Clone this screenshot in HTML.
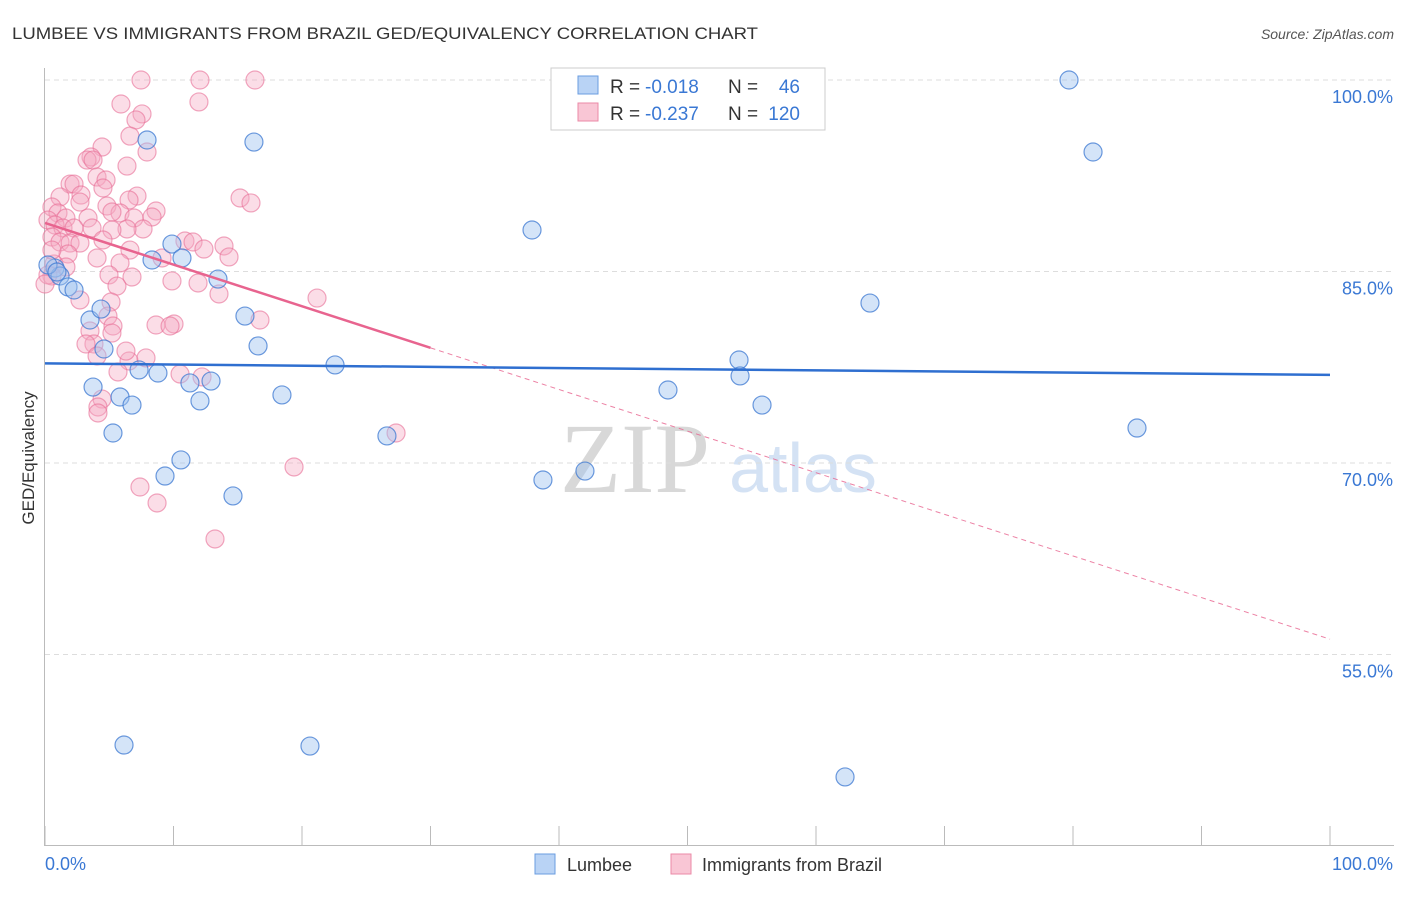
<!DOCTYPE html>
<html><head><meta charset="utf-8"><style>
body{margin:0;background:#fff;font-family:"Liberation Sans",sans-serif}
</style></head><body>
<svg id="c" width="1406" height="892" xmlns="http://www.w3.org/2000/svg">
<text x="12" y="39" font-size="17" fill="#333" textLength="746" lengthAdjust="spacingAndGlyphs">LUMBEE VS IMMIGRANTS FROM BRAZIL GED/EQUIVALENCY CORRELATION CHART</text>
<text x="1394" y="39" font-size="14" fill="#555" font-style="italic" text-anchor="end">Source: ZipAtlas.com</text>
<text x="635" y="492" font-size="100" fill="#d8d8d8" font-family="Liberation Serif" text-anchor="middle">ZIP</text>
<text x="803" y="492" font-size="70" fill="#d4e2f4" text-anchor="middle">atlas</text>
<text transform="translate(34,458) rotate(-90)" font-size="17" fill="#333" text-anchor="middle">GED/Equivalency</text>
<g id="grid"></g><g id="marks"></g>
<g>
<rect x="551" y="68" width="274" height="62" fill="#fff" stroke="#ccc"/>
<rect x="578" y="76" width="20" height="18" fill="#b9d3f5" stroke="#6a9de0"/>
<rect x="578" y="103" width="20" height="18" fill="#f9c6d5" stroke="#eb8aa7"/>
<text x="610" y="93" font-size="19" fill="#333">R =</text>
<text x="645" y="93" font-size="19" fill="#3a78d4">-0.018</text>
<text x="728" y="93" font-size="19" fill="#333">N =</text>
<text x="800" y="93" font-size="19" fill="#3a78d4" text-anchor="end">46</text>
<text x="610" y="120" font-size="19" fill="#333">R =</text>
<text x="645" y="120" font-size="19" fill="#3a78d4">-0.237</text>
<text x="728" y="120" font-size="19" fill="#333">N =</text>
<text x="800" y="120" font-size="19" fill="#3a78d4" text-anchor="end">120</text>
</g>
<g>
<rect x="535" y="854" width="20" height="20" fill="#b9d3f5" stroke="#6a9de0"/>
<text x="567" y="871" font-size="18" fill="#333">Lumbee</text>
<rect x="671" y="854" width="20" height="20" fill="#f9c6d5" stroke="#eb8aa7"/>
<text x="702" y="871" font-size="18" fill="#333">Immigrants from Brazil</text>
</g>
</svg>
<script>
const yTicks=[100,85,70,55];
const yTickLabels=["100.0%","85.0%","70.0%","55.0%"];
const xTickLabels=["0.0%","100.0%"];
const bluePx=[[1069,80],[1093,152],[147,140],[254,142],[532,230],[172,244],[182,258],[152,260],[218,279],[55,268],[60,276],[68,287],[74,290],[870,303],[90,320],[101,309],[245,316],[258,346],[104,349],[335,365],[739,360],[740,376],[139,370],[158,373],[93,387],[190,383],[211,381],[668,390],[282,395],[120,397],[132,405],[200,401],[762,405],[113,433],[387,436],[1137,428],[181,460],[585,471],[165,476],[543,480],[233,496],[124,745],[310,746],[845,777],[48,265],[57,272]];
const pinkPx=[[141,80],[200,80],[255,80],[121,104],[199,102],[142,114],[136,120],[130,136],[147,152],[102,147],[91,157],[87,160],[93,160],[127,166],[97,177],[106,180],[70,184],[74,184],[103,188],[60,197],[81,195],[137,196],[240,198],[251,203],[129,200],[107,206],[156,211],[120,213],[52,207],[58,213],[66,218],[88,218],[112,212],[80,202],[134,218],[152,217],[48,220],[55,225],[63,228],[74,228],[92,228],[143,229],[127,229],[112,230],[185,241],[193,242],[224,246],[204,249],[52,237],[60,242],[70,243],[80,243],[103,240],[130,250],[162,258],[229,257],[68,254],[97,258],[120,263],[54,264],[66,267],[52,276],[109,275],[132,277],[172,281],[198,283],[219,294],[117,286],[80,300],[111,302],[317,298],[108,316],[113,326],[156,325],[174,324],[260,320],[90,331],[94,344],[86,344],[129,361],[146,358],[97,356],[126,351],[118,372],[180,374],[202,377],[102,399],[98,407],[98,413],[396,433],[294,467],[140,487],[157,503],[215,539],[170,326],[112,333],[48,275],[52,250],[45,284]];
const blueX=bluePx.map(p=>+((p[0]-45)/12.85).toFixed(2));
const blueY=bluePx.map(p=>+(100-(p[1]-80)/12.767).toFixed(2));
const pinkX=pinkPx.map(p=>+((p[0]-45)/12.85).toFixed(2));
const pinkY=pinkPx.map(p=>+(100-(p[1]-80)/12.767).toFixed(2));
const blueTrend=[77.8,76.9];
const pinkTrend=[88.8,56.2];
const X=v=>45+v*12.85, Y=v=>80+(100-v)*12.767;
const NS="http://www.w3.org/2000/svg";
function mk(t,a,p){const e=document.createElementNS(NS,t);for(const k in a)e.setAttribute(k,a[k]);p.appendChild(e);return e;}
const g=document.getElementById('grid'), m=document.getElementById('marks');
yTicks.forEach((t,i)=>{
 const l=mk('line',{x1:45,x2:1394,y1:Y(t),y2:Y(t),stroke:'#ddd','stroke-dasharray':'5,4'},g);
 
 
 const tx=mk('text',{x:1393,y:Y(t)+23,'font-size':18,fill:'#3a78d4','text-anchor':'end'},g);
 tx.textContent=yTickLabels[i];
 
 
});
mk('line',{x1:44.5,x2:44.5,y1:68,y2:845,stroke:'#bbb'},g);
mk('line',{x1:44,x2:1394,y1:845.5,y2:845.5,stroke:'#bbb'},g);
for(let i=0;i<=10;i++){const t=mk('line',{x1:X(i*10),x2:X(i*10),y1:826,y2:845,stroke:'#bbb'},g);
 
 }
[[0,'start',45],[1,'end',1393]].forEach(([i,a,x])=>{const t=mk('text',{x:x,y:870,'font-size':18,fill:'#3a78d4','text-anchor':a},g);t.textContent=xTickLabels[i];
 
 });
pinkX.forEach((x,i)=>{const c=mk('circle',{cx:X(x),cy:Y(pinkY[i]),r:9,fill:'rgba(246,170,195,0.4)',stroke:'rgba(232,110,150,0.6)','stroke-width':1.2},m);
 
 });
blueX.forEach((x,i)=>{const c=mk('circle',{cx:X(x),cy:Y(blueY[i]),r:9,fill:'rgba(160,196,240,0.45)',stroke:'rgba(60,120,210,0.75)','stroke-width':1.2},m);
 
 });
const py=x=>pinkTrend[0]+(pinkTrend[1]-pinkTrend[0])*x/100;
const s=mk('line',{x1:X(0),y1:Y(py(0)),x2:X(30),y2:Y(py(30)),stroke:'#e8648f','stroke-width':2.5},m);


const d=mk('line',{x1:X(30),y1:Y(py(30)),x2:X(100),y2:Y(py(100)),stroke:'#e8648f','stroke-width':1,'stroke-dasharray':'5,4','opacity':0.8},m);


const b=mk('line',{x1:X(0),y1:Y(blueTrend[0]),x2:X(100),y2:Y(blueTrend[1]),stroke:'#2f6fd0','stroke-width':2.5},m);


</script>
</body></html>
